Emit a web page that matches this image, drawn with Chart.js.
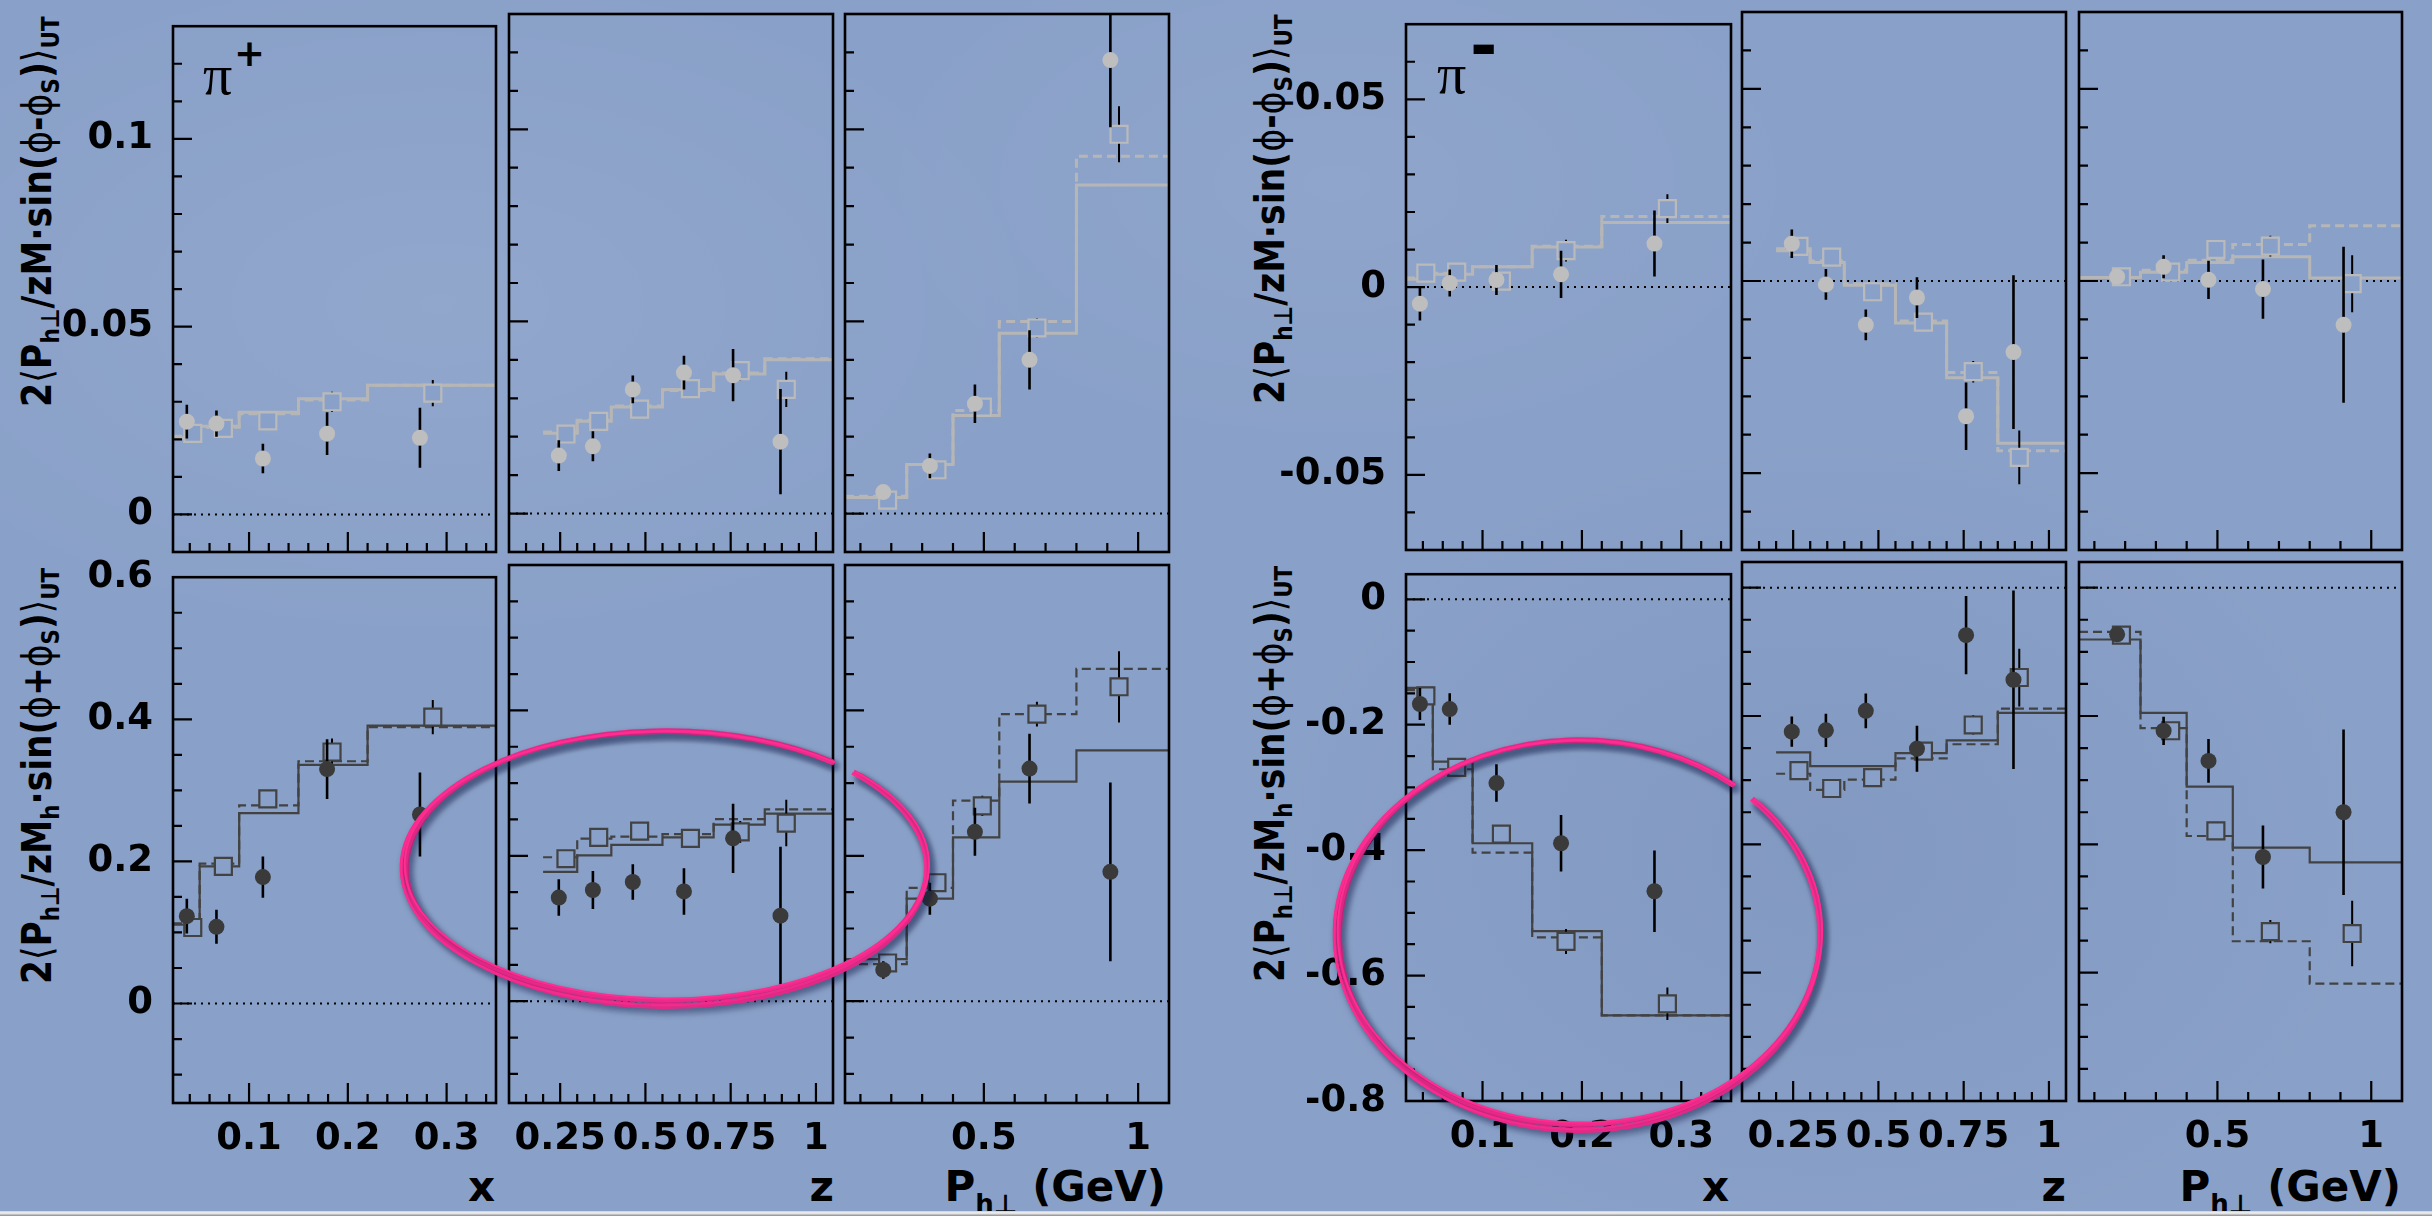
<!DOCTYPE html>
<html><head><meta charset="utf-8">
<script src="https://cdn.jsdelivr.net/npm/chart.js@4.4.1/dist/chart.umd.min.js"></script>
<style>
html,body{margin:0;padding:0;width:2432px;height:1216px;overflow:hidden;}
body{position:relative;background-color:rgb(137,160,200);
 background-image:
  radial-gradient(ellipse 900px 500px at 18% 25%, rgba(255,255,255,0.07), rgba(255,255,255,0) 70%),
  radial-gradient(ellipse 800px 600px at 75% 70%, rgba(20,40,90,0.06), rgba(0,0,0,0) 70%),
  radial-gradient(ellipse 700px 400px at 55% 15%, rgba(255,255,255,0.05), rgba(255,255,255,0) 70%);}
canvas{position:absolute;}
.t{position:absolute;font-family:'DejaVu Sans',sans-serif;font-weight:bold;color:#000;white-space:nowrap;line-height:1;}
.yt{font-size:41px;height:41px;transform-origin:0 0;}
.yt sub,.xt sub{font-size:0.62em;vertical-align:-0.3em;line-height:0;}
.xt sub{vertical-align:-0.45em;}
.thin{font-weight:normal;}
.xt{font-size:42px;}
.pi{font-family:'Liberation Serif','DejaVu Serif',serif;font-weight:normal;font-size:58px;}
.strip{position:absolute;left:0;top:1211px;width:2432px;height:5px;background:linear-gradient(#c8ccd4,#f4f5f7 40%,#8a8a8a);}
</style></head>
<body>
<div class="t yt" id="ytLT">2<span class="thin">⟨</span>P<sub>h⊥</sub>/zM·sin(<span class="thin">ϕ</span>-<span class="thin">ϕ</span><sub>S</sub>)<span class="thin">⟩</span><sub>UT</sub></div>
<div class="t yt" id="ytLB">2<span class="thin">⟨</span>P<sub>h⊥</sub>/zM<sub>h</sub>·sin(<span class="thin">ϕ</span>+<span class="thin">ϕ</span><sub>S</sub>)<span class="thin">⟩</span><sub>UT</sub></div>
<div class="t yt" id="ytRT">2<span class="thin">⟨</span>P<sub>h⊥</sub>/zM·sin(<span class="thin">ϕ</span>-<span class="thin">ϕ</span><sub>S</sub>)<span class="thin">⟩</span><sub>UT</sub></div>
<div class="t yt" id="ytRB">2<span class="thin">⟨</span>P<sub>h⊥</sub>/zM<sub>h</sub>·sin(<span class="thin">ϕ</span>+<span class="thin">ϕ</span><sub>S</sub>)<span class="thin">⟩</span><sub>UT</sub></div>

<div class="t pi" style="left:203px;top:46px;">π</div>
<div class="t" style="left:234px;top:35px;font-size:37px;">+</div>
<div class="t pi" style="left:1437px;top:45px;">π</div>
<div class="t" style="left:1470px;top:13px;font-size:66px;">-</div>

<div class="t xt" style="right:1937px;top:1166px;">x</div>
<div class="t xt" style="right:1598px;top:1166px;">z</div>
<div class="t xt" style="right:1266px;top:1166px;">P<sub>h⊥</sub> (GeV)</div>
<div class="t xt" style="right:703px;top:1166px;">x</div>
<div class="t xt" style="right:366px;top:1166px;">z</div>
<div class="t xt" style="right:31px;top:1166px;">P<sub>h⊥</sub> (GeV)</div>
<div class="strip"></div>

<script>
// ---------- binning (bin edges) and mean kinematics ----------
const xBinEdges  = [0.023, 0.05, 0.09, 0.15, 0.22, 0.4];
const zBinEdges  = [0.2, 0.3, 0.4, 0.55, 0.7, 0.85, 1.05];
const ptBinEdges = [0.05, 0.25, 0.4, 0.55, 0.8, 1.1];
const xDataX   = [0.037, 0.067, 0.114, 0.179, 0.273];
const xModelX  = [0.043, 0.074, 0.119, 0.184, 0.286];
const zDataX   = [0.246, 0.346, 0.463, 0.613, 0.757, 0.896];
const zModelX  = [0.267, 0.363, 0.483, 0.632, 0.778, 0.913];
const ptDataX  = [0.174, 0.325, 0.471, 0.648, 0.910];
const ptModelX = [0.188, 0.348, 0.495, 0.672, 0.938];

// ---------- tick labels ----------
const xTickValues = [0.1, 0.2, 0.3];           const xTickLabels = ['0.1', '0.2', '0.3'];
const zTickValues = [0.25, 0.5, 0.75, 1];      const zTickLabels = ['0.25', '0.5', '0.75', '1'];
const ptTickValues = [0.5, 1];                 const ptTickLabels = ['0.5', '1'];
const yPlusTopValues = [0, 0.05, 0.1];         const yPlusTopLabels = ['0', '0.05', '0.1'];
const yPlusBotValues = [0, 0.2, 0.4, 0.6];     const yPlusBotLabels = ['0', '0.2', '0.4', '0.6'];
const yMinusTopValues = [-0.05, 0, 0.05];      const yMinusTopLabels = ['-0.05', '0', '0.05'];
const yMinusBotValues = [-0.8, -0.6, -0.4, -0.2, 0]; const yMinusBotLabels = ['-0.8', '-0.6', '-0.4', '-0.2', '0'];

// ---------- pi+  , sin(phi - phiS) ----------
const piPlusTopX       = [0.0247, 0.0242, 0.0149, 0.0215, 0.0204];
const piPlusTopXErr    = [0.0045, 0.0035, 0.0039, 0.0057, 0.0080];
const piPlusTopXSq     = [0.0216, 0.0229, 0.0249, 0.0300, 0.0323];
const piPlusTopXSqErr  = [0.0015, 0.0015, 0.0017, 0.0027, 0.0035];
const piPlusTopXSolid  = [0.0204, 0.0235, 0.0272, 0.0308, 0.0344];
const piPlusTopXDashed = [0.0208, 0.0232, 0.0268, 0.0305, 0.0344];

const piPlusTopZ       = [0.0151, 0.0175, 0.0323, 0.0367, 0.0360, 0.0187];
const piPlusTopZErr    = [0.0040, 0.0039, 0.0036, 0.0044, 0.0068, 0.0137];
const piPlusTopZSq     = [0.0207, 0.0240, 0.0272, 0.0325, 0.0372, 0.0323];
const piPlusTopZSqErr  = [0.0015, 0.0015, 0.0015, 0.0018, 0.0025, 0.0046];
const piPlusTopZSolid  = [0.0209, 0.0240, 0.0277, 0.0323, 0.0363, 0.0400];
const piPlusTopZDashed = [0.0212, 0.0243, 0.0280, 0.0320, 0.0366, 0.0403];

const piPlusTopPt       = [0.0056, 0.0124, 0.0286, 0.0400, 0.1180];
const piPlusTopPtErr    = [0.0012, 0.0032, 0.0050, 0.0077, 0.0175];
const piPlusTopPtSq     = [0.0035, 0.0114, 0.0277, 0.0483, 0.0987];
const piPlusTopPtSqErr  = [0.0012, 0.0018, 0.0022, 0.0025, 0.0073];
const piPlusTopPtSolid  = [0.0042, 0.0128, 0.0255, 0.0469, 0.0855];
const piPlusTopPtDashed = [0.0045, 0.0128, 0.0268, 0.0500, 0.0930];

// ---------- pi+  , sin(phi + phiS) ----------
const piPlusBotX       = [0.123, 0.108, 0.178, 0.330, 0.266];
const piPlusBotXErr    = [0.0245, 0.024, 0.029, 0.042, 0.059];
const piPlusBotXSq     = [0.107, 0.193, 0.288, 0.354, 0.403];
const piPlusBotXSqErr  = [0.012, 0.012, 0.012, 0.019, 0.024];
const piPlusBotXSolid  = [0.111, 0.193, 0.268, 0.336, 0.391];
const piPlusBotXDashed = [0.113, 0.197, 0.279, 0.341, 0.389];

const piPlusBotZ       = [0.1426, 0.153, 0.164, 0.151, 0.224, 0.1176];
const piPlusBotZErr    = [0.025, 0.026, 0.0245, 0.032, 0.0476, 0.0947];
const piPlusBotZSq     = [0.196, 0.2254, 0.234, 0.224, 0.233, 0.245];
const piPlusBotZSqErr  = [0.012, 0.012, 0.012, 0.012, 0.015, 0.032];
const piPlusBotZSolid  = [0.178, 0.2005, 0.215, 0.2254, 0.243, 0.258];
const piPlusBotZDashed = [0.198, 0.2236, 0.2265, 0.2298, 0.2504, 0.264];

const piPlusBotPt       = [0.043, 0.141, 0.233, 0.320, 0.178];
const piPlusBotPtErr    = [0.012, 0.022, 0.033, 0.048, 0.123];
const piPlusBotPtSq     = [0.0526, 0.163, 0.2686, 0.395, 0.4325];
const piPlusBotPtSqErr  = [0.010, 0.012, 0.014, 0.017, 0.049];
const piPlusBotPtSolid  = [0.058, 0.141, 0.2254, 0.302, 0.345];
const piPlusBotPtDashed = [0.051, 0.156, 0.276, 0.395, 0.457];

// ---------- pi-  , sin(phi - phiS) ----------
const piMinusTopX       = [-0.0044, 0.0011, 0.0019, 0.0034, 0.0116];
const piMinusTopXErr    = [0.0045, 0.0036, 0.0040, 0.0063, 0.0088];
const piMinusTopXSq     = [0.0037, 0.0040, 0.0016, 0.0097, 0.0209];
const piMinusTopXSqErr  = [0.0015, 0.0015, 0.0015, 0.0029, 0.0038];
const piMinusTopXSolid  = [0.0021, 0.0034, 0.0054, 0.0107, 0.0172];
const piMinusTopXDashed = [0.0024, 0.0037, 0.0054, 0.0109, 0.0188];

const piMinusTopZ       = [0.0097, -0.0009, -0.0114, -0.0043, -0.0352, -0.0185];
const piMinusTopZErr    = [0.0037, 0.0040, 0.0040, 0.0053, 0.0088, 0.0200];
const piMinusTopZSq     = [0.0090, 0.0062, -0.0028, -0.0107, -0.0236, -0.0459];
const piMinusTopZSqErr  = [0.0015, 0.0015, 0.0015, 0.0015, 0.0028, 0.0070];
const piMinusTopZSolid  = [0.0079, 0.0048, -0.0011, -0.0109, -0.0252, -0.0422];
const piMinusTopZDashed = [0.0084, 0.0052, -0.0007, -0.0104, -0.0238, -0.0442];

const piMinusTopPt       = [0.0011, 0.0037, 0.0003, -0.0021, -0.0114];
const piMinusTopPtErr    = [0.0015, 0.0030, 0.0050, 0.0077, 0.0203];
const piMinusTopPtSq     = [0.0011, 0.0023, 0.0082, 0.0091, -0.0007];
const piMinusTopPtSqErr  = [0.0012, 0.0015, 0.0015, 0.0027, 0.0074];
const piMinusTopPtSolid  = [0.0009, 0.0023, 0.0048, 0.0063, 0.0008];
const piMinusTopPtDashed = [0.0009, 0.0028, 0.0054, 0.0095, 0.0144];

// ---------- pi-  , sin(phi + phiS) ----------
const piMinusBotX       = [-0.167, -0.175, -0.293, -0.389, -0.4655];
const piMinusBotXErr    = [0.0256, 0.025, 0.030, 0.045, 0.065];
const piMinusBotXSq     = [-0.154, -0.268, -0.3745, -0.5456, -0.645];
const piMinusBotXSqErr  = [0.012, 0.012, 0.012, 0.020, 0.026];
const piMinusBotXSolid  = [-0.1414, -0.259, -0.389, -0.529, -0.6636];
const piMinusBotXDashed = [-0.145, -0.271, -0.404, -0.539, -0.6636];

const piMinusBotZ       = [-0.2244, -0.2224, -0.192, -0.251, -0.074, -0.1435];
const piMinusBotZErr    = [0.0236, 0.026, 0.027, 0.036, 0.061, 0.139];
const piMinusBotZSq     = [-0.285, -0.313, -0.296, -0.2547, -0.214, -0.140];
const piMinusBotZSqErr  = [0.012, 0.012, 0.012, 0.012, 0.015, 0.045];
const piMinusBotZSolid  = [-0.2566, -0.278, -0.278, -0.258, -0.238, -0.195];
const piMinusBotZDashed = [-0.290, -0.315, -0.299, -0.266, -0.244, -0.1886];

const piMinusBotPt       = [-0.0727, -0.223, -0.270, -0.4197, -0.350];
const piMinusBotPtErr    = [0.010, 0.022, 0.034, 0.049, 0.129];
const piMinusBotPtSq     = [-0.074, -0.223, -0.379, -0.536, -0.539];
const piMinusBotPtSqErr  = [0.010, 0.012, 0.012, 0.018, 0.051];
const piMinusBotPtSolid  = [-0.0808, -0.195, -0.310, -0.405, -0.428];
const piMinusBotPtDashed = [-0.069, -0.219, -0.387, -0.551, -0.617];

// ---------- axes ----------
const AX = {
  x:  {min: 0.023, max: 0.35, minor: 0.02, major: 0.1,  ticks: xTickValues,  labels: xTickLabels,  edges: xBinEdges,  dx: xDataX,  mx: xModelX},
  z:  {min: 0.1,   max: 1.05, minor: 0.05, major: 0.25, ticks: zTickValues,  labels: zTickLabels,  edges: zBinEdges,  dx: zDataX,  mx: zModelX},
  pt: {min: 0.05,  max: 1.1,  minor: 0.1,  major: 0.5,  ticks: ptTickValues, labels: ptTickLabels, edges: ptBinEdges, dx: ptDataX, mx: ptModelX}
};
const AY = {
  plusTop:  {min: -0.01, max: 0.13, minor: 0.01, major: 0.05, ticks: yPlusTopValues,  labels: yPlusTopLabels},
  plusBot:  {min: -0.14, max: 0.6,  minor: 0.05, major: 0.2,  ticks: yPlusBotValues,  labels: yPlusBotLabels},
  minusTop: {min: -0.07, max: 0.07, minor: 0.01, major: 0.05, ticks: yMinusTopValues, labels: yMinusTopLabels},
  minusBot: {min: -0.8,  max: 0.04, minor: 0.05, major: 0.2,  ticks: yMinusBotValues, labels: yMinusBotLabels}
};

// ---------- layout ----------
const COLS = {L: [[173, 496], [509, 833], [845, 1169]], R: [[1406, 1731], [1742, 2066], [2079, 2402]]};
const ROWS = {L: [[14, 552], [565, 1103]], R: [[12, 550], [562, 1101]]};
const ML = 150, MR = 30, MT = 30, MB = 80;
const BG = 'rgb(137,160,200)';
const STYLE = {
  light: {marker: 'rgb(190,190,190)', square: 'rgb(186,186,186)', line: 'rgb(182,182,182)', lw: 3},
  dark:  {marker: 'rgb(58,58,58)',    square: 'rgb(66,66,66)',    line: 'rgb(66,66,66)',    lw: 2.2}
};

const PANELS = [
  {key: 'pTx', g: 'L', r: 0, c: 0, xa: 'x',  ya: 'plusTop', st: 'light', d: [piPlusTopX, piPlusTopXErr, piPlusTopXSq, piPlusTopXSqErr, piPlusTopXSolid, piPlusTopXDashed]},
  {key: 'pTz', g: 'L', r: 0, c: 1, xa: 'z',  ya: 'plusTop', st: 'light', d: [piPlusTopZ, piPlusTopZErr, piPlusTopZSq, piPlusTopZSqErr, piPlusTopZSolid, piPlusTopZDashed]},
  {key: 'pTp', g: 'L', r: 0, c: 2, xa: 'pt', ya: 'plusTop', st: 'light', d: [piPlusTopPt, piPlusTopPtErr, piPlusTopPtSq, piPlusTopPtSqErr, piPlusTopPtSolid, piPlusTopPtDashed]},
  {key: 'pBx', g: 'L', r: 1, c: 0, xa: 'x',  ya: 'plusBot', st: 'dark',  d: [piPlusBotX, piPlusBotXErr, piPlusBotXSq, piPlusBotXSqErr, piPlusBotXSolid, piPlusBotXDashed]},
  {key: 'pBz', g: 'L', r: 1, c: 1, xa: 'z',  ya: 'plusBot', st: 'dark',  d: [piPlusBotZ, piPlusBotZErr, piPlusBotZSq, piPlusBotZSqErr, piPlusBotZSolid, piPlusBotZDashed]},
  {key: 'pBp', g: 'L', r: 1, c: 2, xa: 'pt', ya: 'plusBot', st: 'dark',  d: [piPlusBotPt, piPlusBotPtErr, piPlusBotPtSq, piPlusBotPtSqErr, piPlusBotPtSolid, piPlusBotPtDashed]},
  {key: 'mTx', g: 'R', r: 0, c: 0, xa: 'x',  ya: 'minusTop', st: 'light', d: [piMinusTopX, piMinusTopXErr, piMinusTopXSq, piMinusTopXSqErr, piMinusTopXSolid, piMinusTopXDashed]},
  {key: 'mTz', g: 'R', r: 0, c: 1, xa: 'z',  ya: 'minusTop', st: 'light', d: [piMinusTopZ, piMinusTopZErr, piMinusTopZSq, piMinusTopZSqErr, piMinusTopZSolid, piMinusTopZDashed]},
  {key: 'mTp', g: 'R', r: 0, c: 2, xa: 'pt', ya: 'minusTop', st: 'light', d: [piMinusTopPt, piMinusTopPtErr, piMinusTopPtSq, piMinusTopPtSqErr, piMinusTopPtSolid, piMinusTopPtDashed]},
  {key: 'mBx', g: 'R', r: 1, c: 0, xa: 'x',  ya: 'minusBot', st: 'dark',  d: [piMinusBotX, piMinusBotXErr, piMinusBotXSq, piMinusBotXSqErr, piMinusBotXSolid, piMinusBotXDashed]},
  {key: 'mBz', g: 'R', r: 1, c: 1, xa: 'z',  ya: 'minusBot', st: 'dark',  d: [piMinusBotZ, piMinusBotZErr, piMinusBotZSq, piMinusBotZSqErr, piMinusBotZSolid, piMinusBotZDashed]},
  {key: 'mBp', g: 'R', r: 1, c: 2, xa: 'pt', ya: 'minusBot', st: 'dark',  d: [piMinusBotPt, piMinusBotPtErr, piMinusBotPtSq, piMinusBotPtSqErr, piMinusBotPtSolid, piMinusBotPtDashed]}
];

// highlight ellipses (in data coordinates of a panel)
const ELLIPSES = [
  {panel: 'pBz', cx: 0.560, cy: 0.1863, rx: 0.7658, ry: 0.186},
  {panel: 'mBx', cx: 0.197, cy: -0.531, rx: 0.2427, ry: 0.3073}
];

// ---------- helpers ----------
const pts = (xs, ys) => xs.map((x, i) => ({x: x, y: ys[i]}));
function errSegs(xs, ys, es) {
  const out = [];
  xs.forEach((x, i) => { out.push({x: x, y: ys[i] - es[i]}, {x: x, y: ys[i] + es[i]}, {x: x, y: null}); });
  return out;
}
function steps(edges, vals) {
  return edges.map((e, i) => ({x: e, y: vals[Math.min(i, vals.length - 1)]}));
}
function tickList(min, max, step) {
  const out = [];
  for (let k = Math.ceil(min / step - 1e-6); k * step <= max + 1e-9; k++) out.push(+(k * step).toFixed(6));
  return out;
}

const frameTicks = {
  id: 'frameTicks',
  afterDraw(chart, args, o) {
    const {ctx, chartArea: a} = chart;
    const xs = chart.scales.x, ys = chart.scales.y;
    ctx.save();
    ctx.strokeStyle = '#000';
    ctx.lineWidth = 2.2;
    ctx.beginPath();
    tickList(o.ay.min, o.ay.max, o.ay.minor).forEach(v => {
      const p = ys.getPixelForValue(v);
      if (p < a.top + 2 || p > a.bottom - 2) return;
      const isMajor = Math.abs(v / o.ay.major - Math.round(v / o.ay.major)) < 1e-4;
      ctx.moveTo(a.left, p); ctx.lineTo(a.left + (isMajor ? 19 : 9), p);
    });
    tickList(o.ax.min, o.ax.max, o.ax.minor).forEach(v => {
      const p = xs.getPixelForValue(v);
      if (p < a.left + 2 || p > a.right - 2) return;
      const isMajor = Math.abs(v / o.ax.major - Math.round(v / o.ax.major)) < 1e-4;
      ctx.moveTo(p, a.bottom); ctx.lineTo(p, a.bottom - (isMajor ? 20 : 9));
    });
    ctx.stroke();
    ctx.lineWidth = 2.6;
    ctx.strokeRect(a.left, a.top, a.right - a.left, a.bottom - a.top);
    ctx.restore();
  }
};

const tickFont = {family: "'DejaVu Sans', sans-serif", weight: 'bold', size: 37};
const charts = {};

PANELS.forEach(p => {
  const [L, R] = COLS[p.g][p.c];
  const [T, B] = ROWS[p.g][p.r];
  const W = R - L + ML + MR, H = B - T + MT + MB;
  const cv = document.createElement('canvas');
  cv.width = W; cv.height = H;
  cv.style.left = (L - ML) + 'px'; cv.style.top = (T - MT) + 'px';
  cv.style.width = W + 'px'; cv.style.height = H + 'px';
  document.body.appendChild(cv);
  const ax = AX[p.xa], ay = AY[p.ya], st = STYLE[p.st];
  const [cy, ce, sy, se, solid, dashed] = p.d;
  const showX = p.r === 1, showY = p.c === 0;
  const chart = new Chart(cv, {
    type: 'scatter',
    data: {datasets: [
      {type: 'scatter', label: 'data', data: pts(ax.dx, cy), pointStyle: 'circle', pointRadius: 8, pointHoverRadius: 8, backgroundColor: st.marker, borderWidth: 0, order: 0},
      {type: 'line', label: 'data error', data: errSegs(ax.dx, cy, ce), borderColor: '#000', borderWidth: 2.6, pointRadius: 0, spanGaps: false, order: 1},
      {type: 'scatter', label: 'model', data: pts(ax.mx, sy), pointStyle: 'rect', pointRadius: 12, pointHoverRadius: 12, backgroundColor: BG, borderColor: st.square, borderWidth: 2.2, order: 2},
      {type: 'line', label: 'model error', data: errSegs(ax.mx, sy, se), borderColor: '#000', borderWidth: 2, pointRadius: 0, spanGaps: false, order: 3},
      {type: 'line', label: 'dashed', data: steps(ax.edges, dashed), stepped: true, borderColor: st.line, borderWidth: st.lw, borderDash: [9, 5], pointRadius: 0, order: 4},
      {type: 'line', label: 'solid', data: steps(ax.edges, solid), stepped: true, borderColor: st.line, borderWidth: st.lw, pointRadius: 0, order: 5},
      {type: 'line', label: 'zero', data: [{x: ax.min, y: 0}, {x: ax.max, y: 0}], borderColor: '#000', borderWidth: 2, borderDash: [2, 5], pointRadius: 0, order: 6}
    ]},
    options: {
      responsive: false, animation: false, devicePixelRatio: 1, events: [],
      layout: {padding: {left: 0, right: MR, top: MT, bottom: 0}, autoPadding: false},
      plugins: {legend: {display: false}, tooltip: {enabled: false}, frameTicks: {ax: ax, ay: ay}},
      scales: {
        x: {type: 'linear', min: ax.min, max: ax.max,
            grid: {display: false, drawTicks: false}, border: {display: false},
            ticks: {display: showX, color: '#000', font: tickFont, padding: 14, maxRotation: 0, autoSkip: false,
                    callback: (v, i) => ax.labels[i]},
            afterBuildTicks: s => { s.ticks = ax.ticks.map(v => ({value: v})); },
            afterFit: s => { s.height = MB; }},
        y: {type: 'linear', min: ay.min, max: ay.max,
            grid: {display: false, drawTicks: false}, border: {display: false},
            ticks: {display: showY, color: '#000', font: tickFont, padding: 20, autoSkip: false,
                    callback: (v, i) => ay.labels[i]},
            afterBuildTicks: s => { s.ticks = ay.ticks.map(v => ({value: v})); },
            afterFit: s => { s.width = ML; }}
      }
    },
    plugins: [frameTicks]
  });
  chart.$off = {left: L - ML, top: T - MT};
  charts[p.key] = chart;
});

// ---------- highlight ellipses ----------
const ov = document.createElement('canvas');
ov.width = 2432; ov.height = 1216;
ov.style.left = '0px'; ov.style.top = '0px'; ov.style.zIndex = 10;
document.body.appendChild(ov);
const octx = ov.getContext('2d');
ELLIPSES.forEach(e => {
  const ch = charts[e.panel];
  const xs = ch.scales.x, ys = ch.scales.y;
  const cx = ch.$off.left + xs.getPixelForValue(e.cx);
  const cy = ch.$off.top + ys.getPixelForValue(e.cy);
  const rx = Math.abs(xs.getPixelForValue(e.cx + e.rx) - xs.getPixelForValue(e.cx));
  const ry = Math.abs(ys.getPixelForValue(e.cy + e.ry) - ys.getPixelForValue(e.cy));
  const a0 = -44 * Math.PI / 180, a1 = 310 * Math.PI / 180;
  const strokes = [[0, 0, 0, 0, 4.5], [1.5, 2.5, -1, 2, 3.5], [-1.5, 1, 2, -1, 3], [0.8, 3.5, -0.5, 3, 3], [-2.5, 2.5, 1, 1.5, 2.5], [1, -1, 1, -1.5, 2]];
  octx.save();
  octx.strokeStyle = 'rgb(255,45,145)';
  octx.shadowColor = 'rgba(20,30,70,0.35)';
  octx.shadowBlur = 7; octx.shadowOffsetX = 3; octx.shadowOffsetY = 4;
  strokes.forEach(s => {
    octx.lineWidth = s[4];
    octx.beginPath();
    octx.ellipse(cx + s[0], cy + s[1], rx + s[2], ry + s[3], 0, a0, a1);
    octx.stroke();
  });
  octx.restore();
});

// ---------- rotated y titles ----------
[['ytLT', 17, 407, 391], ['ytLB', 17, 984, 416], ['ytRT', 1250, 404, 390], ['ytRB', 1250, 982, 416]].forEach(([id, l, t, len]) => {
  const el = document.getElementById(id);
  el.style.left = l + 'px'; el.style.top = t + 'px';
  const s = len / el.offsetWidth;
  el.style.transform = 'rotate(-90deg) scaleX(' + s.toFixed(4) + ')';
});
</script>
</body></html>
